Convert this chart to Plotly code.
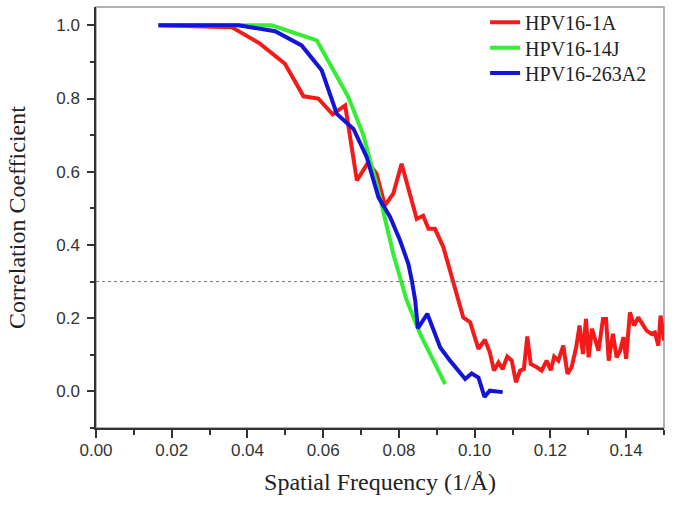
import plotly.graph_objects as go

# FSC curves
red_x = [0.0165, 0.0358, 0.0433, 0.0499, 0.0548, 0.0587, 0.0625, 0.0658, 0.0689, 0.0719,
         0.0741, 0.0763, 0.0785, 0.0807, 0.0847, 0.0864, 0.0878, 0.0895, 0.0917, 0.0944,
         0.0970, 0.0988, 0.1010, 0.1027, 0.1040, 0.1051, 0.1063, 0.1074, 0.1086, 0.1098,
         0.1109, 0.1120, 0.1130, 0.1139, 0.1148, 0.1164, 0.1177, 0.1190, 0.1201, 0.1210,
         0.1221, 0.1234, 0.1245, 0.1256, 0.1268, 0.1277, 0.1286, 0.1294, 0.1301, 0.1310,
         0.1318, 0.1327, 0.1339, 0.1347, 0.1354, 0.1365, 0.1375, 0.1384, 0.1393, 0.1400,
         0.1410, 0.1421, 0.1432, 0.1441, 0.1454, 0.1467, 0.1476, 0.1485, 0.1491, 0.1500]
red_y = [1.0, 0.995, 0.95, 0.895, 0.806, 0.800, 0.757, 0.781, 0.576, 0.626,
         0.594, 0.508, 0.540, 0.622, 0.471, 0.480, 0.444, 0.444, 0.395, 0.300,
         0.202, 0.189, 0.116, 0.141, 0.107, 0.057, 0.079, 0.061, 0.095, 0.084,
         0.025, 0.057, 0.061, 0.150, 0.075, 0.066, 0.057, 0.084, 0.058, 0.095,
         0.084, 0.125, 0.048, 0.066, 0.120, 0.180, 0.102, 0.198, 0.093, 0.171,
         0.143, 0.111, 0.198, 0.198, 0.084, 0.157, 0.093, 0.111, 0.148, 0.089,
         0.216, 0.180, 0.202, 0.189, 0.166, 0.157, 0.161, 0.125, 0.207, 0.139]

green_x = [0.0165, 0.0464, 0.0583, 0.0666, 0.0706, 0.0745, 0.0785, 0.0820, 0.0856, 0.0922]
green_y = [1.0, 1.0, 0.959, 0.805, 0.700, 0.550, 0.376, 0.250, 0.157, 0.020]

blue_x = [0.0165, 0.0376, 0.0473, 0.0543, 0.0596, 0.0636, 0.0680, 0.0715, 0.0746, 0.0777,
          0.0803, 0.0825, 0.0834, 0.0843, 0.0850, 0.0875, 0.0909, 0.0935, 0.0975, 0.0992,
          0.1010, 0.1026, 0.1040, 0.1074]
blue_y = [1.0, 1.0, 0.984, 0.945, 0.877, 0.758, 0.717, 0.640, 0.530, 0.476,
          0.412, 0.348, 0.303, 0.248, 0.172, 0.212, 0.120, 0.084, 0.034, 0.049,
          0.038, -0.015, 0.002, -0.002]

serif = "Liberation Serif"
sans = "Liberation Sans"

fig = go.Figure()
fig.add_trace(go.Scatter(x=red_x, y=red_y, mode="lines", name="HPV16-1A", legend="legend",
                         line=dict(color="#f51a1a", width=4)))
fig.add_trace(go.Scatter(x=green_x, y=green_y, mode="lines", name="HPV16-14J", legend="legend2",
                         line=dict(color="#33ee33", width=4)))
fig.add_trace(go.Scatter(x=blue_x, y=blue_y, mode="lines", name="HPV16-263A2", legend="legend3",
                         line=dict(color="#1414d8", width=4)))

# 0.3 threshold
fig.add_shape(type="line", xref="paper", yref="y", x0=0, x1=1, y0=0.3, y1=0.3,
              line=dict(color="#777777", width=1, dash="dot"))
# light frame on top/right
fig.add_shape(type="rect", xref="paper", yref="paper", x0=0, x1=1, y0=0, y1=1,
              line=dict(color="#999999", width=1.5), layer="below")

fig.update_xaxes(range=[0, 0.15], dtick=0.02, tick0=0, tickformat=".2f",
                 ticks="outside", ticklen=8, tickwidth=1.5, tickcolor="#333",
                 minor=dict(dtick=0.01, ticks="outside", ticklen=5, tickwidth=1.5, tickcolor="#333"),
                 showline=True, linecolor="#333", linewidth=1.5, showgrid=False, zeroline=False,
                 automargin=False, ticklabelstandoff=-2,
                 tickfont=dict(family=sans, size=17, color="#333"),
                 title=dict(text="Spatial Frequency (1/Å)", font=dict(family=serif, size=24, color="#222"),
                            standoff=14))
fig.update_yaxes(range=[-0.1, 1.05], dtick=0.2, tick0=0, tickformat=".1f",
                 ticks="outside", ticklen=7, tickwidth=1.5, tickcolor="#333",
                 minor=dict(dtick=0.1, ticks="outside", ticklen=4, tickwidth=1.5, tickcolor="#333"),
                 showline=True, linecolor="#333", linewidth=1.5, showgrid=False, zeroline=False,
                 automargin=False, ticklabelstandoff=4,
                 tickfont=dict(family=sans, size=17, color="#333"),
                 title=dict(text="Correlation Coefficient", font=dict(family=serif, size=24, color="#222"),
                            standoff=24))

leg = dict(x=0.685, xanchor="left", yanchor="middle", bgcolor="rgba(0,0,0,0)",
           font=dict(family=serif, size=20, color="#222"))
fig.update_layout(
    width=674, height=509,
    margin=dict(l=96, r=10, t=7, b=81, autoexpand=False),
    plot_bgcolor="white", paper_bgcolor="white",
    showlegend=True,
    legend=dict(leg, y=0.964),
    legend2=dict(leg, y=0.903),
    legend3=dict(leg, y=0.843),
)

fig.write_html("out.html", config={"displayModeBar": False},
               post_script="document.body.style.margin='0px';")
